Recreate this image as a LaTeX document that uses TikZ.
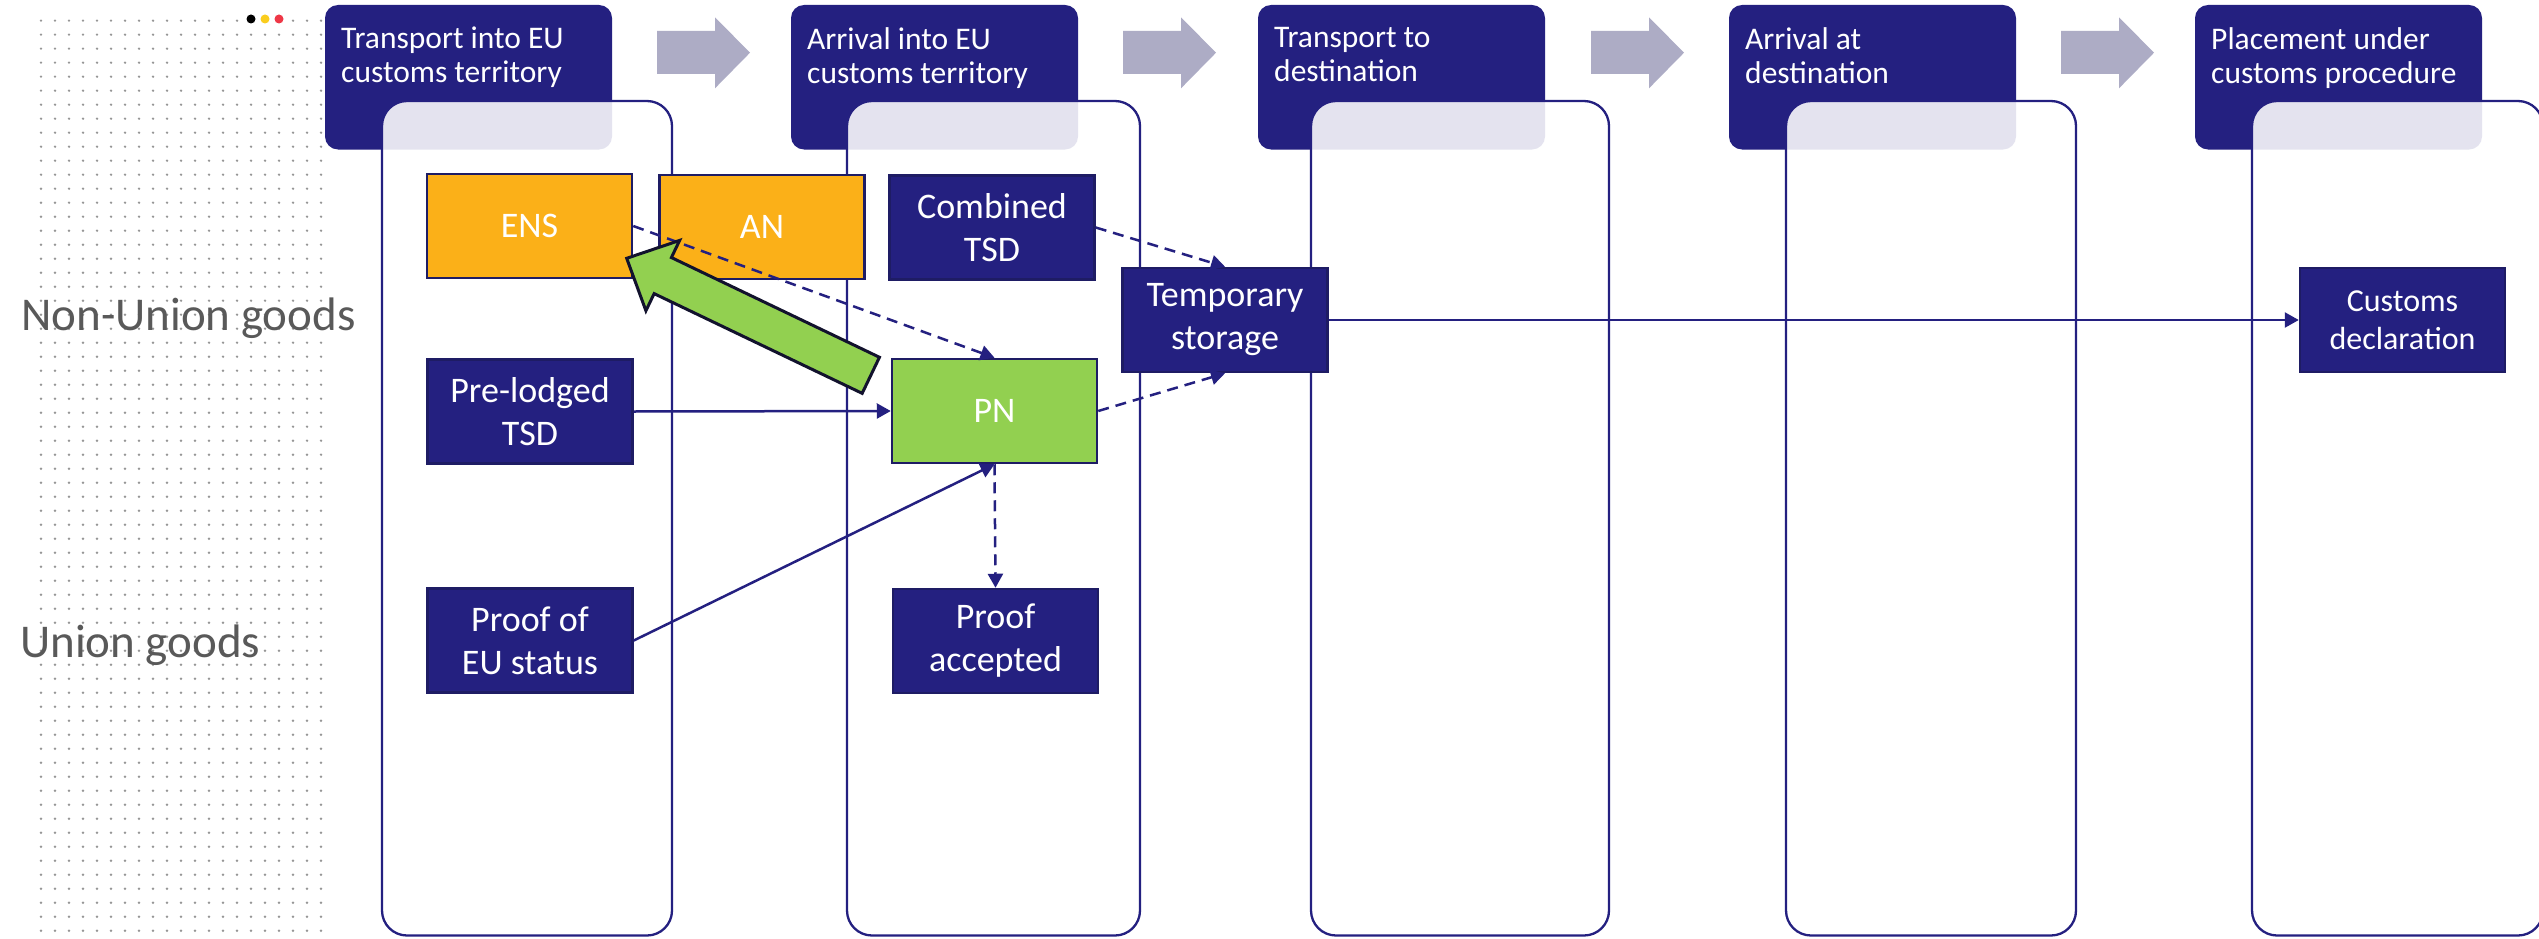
\documentclass[tikz,border=0pt]{standalone}
\usepackage{fontspec}
\setmainfont{Carlito}
\usetikzlibrary{arrows.meta,calc}
\definecolor{navy}{RGB}{36,32,128}
\definecolor{boxborder}{RGB}{30,28,100}
\definecolor{ensorange}{RGB}{251,176,24}
\definecolor{pngreen}{RGB}{146,208,80}
\definecolor{arrowgray}{RGB}{173,172,197}
\definecolor{labelgray}{RGB}{89,89,89}
\definecolor{dotgray}{RGB}{150,150,150}
\definecolor{arrowdark}{RGB}{18,18,45}
\definecolor{dotyellow}{RGB}{250,205,30}
\definecolor{dotred}{RGB}{238,55,70}
\begin{document}
\begin{tikzpicture}[x=1pt,y=-1pt,
  lane/.style={draw=navy, line width=2.3pt, fill=white, fill opacity=0.88, rounded corners=25pt},
  hdr/.style={fill=navy, rounded corners=13pt},
  hdrtext/.style={anchor=north west, inner sep=0pt, align=left, text=white, font=\fontsize{31.5}{34}\selectfont},
  stagearrow/.style={fill=arrowgray},
  side/.style={anchor=base west, inner sep=0pt, text=labelgray, font=\fontsize{47}{56}\selectfont},
  box/.style={draw=boxborder, line width=2.5pt, fill=navy, text=white, minimum width=205pt, minimum height=104pt, inner sep=0pt, align=center, font=\fontsize{36}{43}\selectfont},
  orangebox/.style={box, fill=ensorange},
  greenbox/.style={box, fill=pngreen},
  conn/.style={draw=navy, line width=2.5pt, -{Triangle[length=14pt,width=15pt]}},
  dconn/.style={conn, dash pattern=on 11pt off 7pt},
  bigarrow/.style={fill=pngreen, draw=arrowdark, line width=3pt, line join=miter}
]
\useasboundingbox (0,0) rectangle (2539,939);
\clip (0,0) rectangle (2539,939);
\fill[white] (0,0) rectangle (2539,939);

% dot grid
\foreach \i in {0,...,20}{
  \foreach \j in {1,...,66}{
    \fill[dotgray] (41+14*\i, 6.7+14*\j) circle (1.3pt);
  }
}
\fill[white] (244,12) rectangle (286,27);
\fill[black] (251,19) circle (4.5pt);
\fill[dotyellow] (265,19) circle (4.5pt);
\fill[dotred] (279,19) circle (4.5pt);

% headers
\fill[hdr] (325,5) rectangle (612,149.5);
\fill[hdr] (791,5) rectangle (1078,149.5);
\fill[hdr] (1258,5) rectangle (1545,149.5);
\fill[hdr] (1729,5) rectangle (2016,149.5);
\fill[hdr] (2195,5) rectangle (2482,149.5);

% lanes
\draw[lane] (382,101) rectangle (672,935.5);
\draw[lane] (847,101) rectangle (1140,935.5);
\draw[lane] (1311,101) rectangle (1609,935.5);
\draw[lane] (1786,101) rectangle (2076,935.5);
\draw[lane] (2252,101) rectangle (2543,935.5);

% header texts
\node[hdrtext] (h1) at (341,27) {Transport into EU\\customs territory};
\node[hdrtext] (h2) at (807,27) {Arrival into EU\\customs territory};
\node[hdrtext] (h3) at (1274,27) {Transport to\\destination};
\node[hdrtext] (h4) at (1745,27) {Arrival at\\destination};
\node[hdrtext] (h5) at (2211,27) {Placement under\\customs procedure};

% stage arrows
\foreach \L in {657,1123,1591,2061}{
  \fill[stagearrow] (\L,31) -- (\L+58,31) -- (\L+58,17.3) -- (\L+93,52.7)
     -- (\L+58,88.3) -- (\L+58,74) -- (\L,74) -- cycle;
}

% side labels
\node[side] (nonunion) at (21,330) {Non-Union goods};
\node[side] (union) at (20,657) {Union goods};

% boxes
\node[orangebox] (ENS) at (529.5,226) {ENS};
\node[orangebox] (AN) at (762,227) {AN};
\node[box] (CTSD) at (992,227.5) {Combined\\TSD};
\node[box] (PLTSD) at (530,411.5) {Pre-lodged\\TSD};
\node[greenbox] (PN) at (994.5,411) {PN};
\node[box] (PoEU) at (530,640.5) {Proof of\\EU status};
\node[box] (PA) at (995.5,641) {Proof\\accepted};
\node[box] (TS) at (1225,320) {Temporary\\storage};
\node[box, font=\fontsize{32}{38}\selectfont] (CD) at (2402.5,320) {Customs\\declaration};

% connectors
\draw[dconn] (ENS.east) -- (PN.north);
\draw[dconn] (CTSD.east) -- (TS.north);
\draw[dconn] (PN.east) -- (TS.south);
\draw[conn] (PLTSD.east) -- (PN.west);
\draw[conn] (PoEU.east) -- (PN.south);
\draw[dconn] (PN.south) -- (PA.north);
\draw[conn] (TS.east) -- (CD.west);

% big green arrow
\coordinate (gT) at (870.8,375.3);
\coordinate (gP) at (626.7,258.3);
\coordinate (gH) at ($(gP)!40pt!(gT)$);
\draw[bigarrow] (gP) -- ($(gH)!39pt!90:(gT)$) -- ($(gH)!20pt!90:(gT)$)
  -- ($(gT)!20pt!-90:(gH)$) -- ($(gT)!20pt!90:(gH)$)
  -- ($(gH)!20pt!-90:(gT)$) -- ($(gH)!39pt!-90:(gT)$) -- cycle;
\end{tikzpicture}
\end{document}
